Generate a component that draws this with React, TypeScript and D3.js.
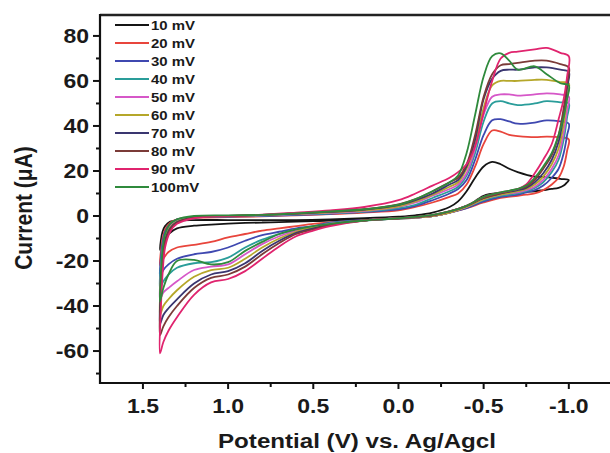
import React from "react";
import * as d3 from "d3";

// ---------- data ----------
const seriesNames = ["10 mV", "20 mV", "30 mV", "40 mV", "50 mV", "60 mV", "70 mV", "80 mV", "90 mV", "100mV"];
const seriesColors = ["#151515", "#e8453c", "#3f48b0", "#2a9d9a", "#d657c8", "#b5a72a", "#3a3670", "#7b3b38", "#e0246e", "#2f8a3c"];

// forward scan (drawn left → right, potential decreasing)
const upperV = [1.40, 1.395, 1.385, 1.37, 1.34, 1.30, 1.2, 1.0, 0.8, 0.6, 0.4, 0.2, 0.0, -0.1, -0.2, -0.3, -0.35, -0.4, -0.45, -0.5, -0.55, -0.6, -0.65, -0.7, -0.8, -0.87, -0.95, -1.0];
// reverse scan (drawn right → left)
const lowerV = [-0.99, -0.97, -0.94, -0.9, -0.85, -0.8, -0.75, -0.7, -0.6, -0.5, -0.4, -0.3, -0.2, 0.0, 0.2, 0.4, 0.5, 0.6, 0.7, 0.8, 0.9, 1.0, 1.1, 1.2, 1.3, 1.35, 1.38];

const upper10 = [-15, -11, -7, -4.5, -2.5, -2, -1.8, -1.8, -1.8, -1.8, -1.5, -1.0, -0.3, 0.3, 1.5, 4, 6.5, 11, 17, 22, 24, 23, 21, 19.5, 17.5, 17.3, 16.5, 16];
const lower10 = [15, 13.5, 12.5, 12, 11.5, 11, 10.8, 10.7, 10.3, 9, 4, 1.5, 0, -1.2, -1.8, -2.1, -2.3, -2.5, -2.7, -2.9, -3.1, -3.4, -3.8, -4.3, -5.5, -8, -11];

const upper20 = [-22, -16, -10, -6, -3, -1.5, -0.8, -0.5, -0.2, 0.3, 0.8, 1.5, 2.5, 4, 6, 8.5, 10, 14, 22, 32, 38, 37.5, 36, 35.5, 35, 35.3, 35, 34];
const lower20 = [29, 22, 17, 14, 11.5, 10, 9.5, 9, 8, 6, 3.5, 1.5, 0, -1, -1.8, -2.8, -3.5, -4.5, -5.5, -6.5, -8, -9.5, -11.5, -12.8, -14, -16, -19];

const upper30 = [-27, -19, -12, -7, -3.5, -1.5, -0.6, -0.3, 0, 0.5, 1, 1.8, 3, 4.5, 7, 10, 12, 16, 25, 36, 42.5, 43, 42, 41, 41.5, 42.5, 42, 41];
const lower30 = [36, 28, 21, 17, 13.5, 11.5, 10.5, 9.5, 8.5, 6.5, 3.5, 1.5, 0, -1, -1.8, -3, -4.5, -5.5, -7, -8.5, -11, -14, -16, -17, -19, -21.5, -24];

const upper40 = [-32, -22, -14, -8, -4, -2, -0.6, -0.2, 0.2, 0.7, 1.2, 2, 3.5, 5, 8, 11, 13, 18, 28, 42, 50, 51, 50, 49.3, 50, 51, 50.5, 50];
const lower40 = [44, 34, 25, 19.5, 15, 12.5, 11, 10, 9, 7, 4, 1.5, 0, -1, -2, -3.2, -5, -6, -8, -10.5, -14, -18.5, -20.5, -21, -23, -26, -29];

const upper50 = [-37, -26, -16, -9, -4.5, -2.2, -0.6, -0.1, 0.3, 0.8, 1.4, 2.2, 4, 6, 9, 12, 14, 19, 30, 45, 53, 54, 54, 53.5, 54, 54.5, 54, 53];
const lower50 = [47, 37, 27, 21, 16, 13, 11.5, 10.5, 9.5, 7.5, 4, 1.5, 0, -1, -2, -3.4, -5, -6.5, -9, -12.5, -17, -21.5, -22.5, -24, -29, -32, -34];

const upper60 = [-44, -30, -18, -10, -5, -2.5, -0.6, 0, 0.4, 1, 1.6, 2.5, 4.3, 6.5, 9.5, 13, 15, 21, 32, 48, 58, 60, 60, 60, 60.5, 60.5, 59.5, 59];
const lower60 = [53, 41, 30, 23, 17.5, 14, 12, 11, 9.5, 7.5, 4, 1.5, 0, -1, -2, -3.6, -5, -7, -10, -14, -19, -23, -24, -27, -33, -37, -40];

const upper70 = [-48, -33, -20, -11, -5.5, -2.7, -0.6, 0, 0.5, 1.1, 1.8, 2.8, 4.8, 7, 10, 14, 16, 22, 34, 52, 61, 64.5, 65, 65, 66, 66, 65, 64];
const lower70 = [57, 45, 33, 25, 19, 15, 12.5, 11.5, 10, 8, 4.5, 2, 0.3, -1, -2, -3.8, -5.5, -7.5, -11, -15.5, -21, -24.5, -26, -30, -37, -41, -44];

const upper80 = [-53, -36, -22, -12, -6, -3, -0.7, 0, 0.5, 1.2, 2, 3, 5.2, 7.5, 11, 15, 17, 23, 36, 53, 63, 67, 67.5, 68, 69, 69, 67.5, 66];
const lower80 = [59, 48, 36, 27, 21, 16, 13, 12, 10, 8, 4.5, 2, 0.3, -1, -2, -4, -6, -8, -12, -17, -22.5, -26, -27.5, -32, -40, -45, -49];

const upper90 = [-61, -42, -26, -14, -7, -3.5, -1, 0, 0.6, 1.5, 2.5, 4, 7, 10, 13.5, 17, 19.5, 23, 31, 46, 60, 70, 72.5, 73, 74, 74.7, 72.5, 71];
const lower90 = [62, 52, 43, 32, 25, 19, 14, 12, 10.5, 8.5, 4.5, 2, 0.5, -1, -2, -4.5, -6.5, -9, -13.5, -19, -24.5, -28, -29.5, -35, -45, -51, -56];

const upper100 = [-38, -26, -15, -8, -3.5, -1.5, 0, 0.3, 0.5, 1.2, 2, 3, 5, 7.5, 11, 15, 18, 28, 45, 62, 71, 72.3, 69, 65, 66.5, 63, 59, 58];
const lower100 = [52, 44, 36, 28, 22, 17, 13.5, 12, 10.5, 8.5, 4.5, 2, 0.5, -1, -2, -3.5, -4.5, -6, -8, -11.5, -15.5, -20.5, -21.5, -19.5, -20, -26, -32];

const upperSets = [upper10, upper20, upper30, upper40, upper50, upper60, upper70, upper80, upper90, upper100];
const lowerSets = [lower10, lower20, lower30, lower40, lower50, lower60, lower70, lower80, lower90, lower100];

const xTicks = [1.5, 1.0, 0.5, 0.0, -0.5, -1.0];
const xTickLabels = ["1.5", "1.0", "0.5", "0.0", "-0.5", "-1.0"];
const xMinorTicks = [1.25, 0.75, 0.25, -0.25, -0.75];
const yTicks = [-60, -40, -20, 0, 20, 40, 60, 80];
const yMinorTicks = [-70, -50, -30, -10, 10, 30, 50, 70];

const drawOrder = [0, 1, 2, 3, 4, 5, 6, 7, 8, 9];

// ---------- layout ----------
const W = 610, H = 453;
const left = 100, right = 608, top = 15, bottom = 383;
const FONT = "'Liberation Sans', Arial, sans-serif";
const SX = 1.15;

export default function App() {
  const x = d3.scaleLinear().domain([1.752, -1.23]).range([left, right]);
  const y = d3.scaleLinear().domain([-74.2, 89.3]).range([bottom, top]);
  const line = d3
    .line<[number, number]>()
    .x((d) => x(d[0]))
    .y((d) => y(d[1]))
    .curve(d3.curveCatmullRomClosed.alpha(0.5));

  const paths = drawOrder.map((i) => {
    const pts: [number, number][] = [];
    upperV.forEach((v, k) => pts.push([v, upperSets[i][k]]));
    lowerV.forEach((v, k) => pts.push([v, lowerSets[i][k]]));
    return { i, d: line(pts) || "" };
  });

  return (
    <svg width={W} height={H} style={{ display: "block", position: "absolute", left: 0, top: 0, background: "#fff" }}>
      <rect x={0} y={0} width={W} height={H} fill="#fff" />
      {/* curves */}
      <g fill="none" strokeWidth={1.8} strokeLinejoin="round">
        {paths.map((p) => (
          <path key={p.i} d={p.d} stroke={seriesColors[p.i]} />
        ))}
      </g>
      {/* frame */}
      <line x1={left} x2={W} y1={top} y2={top} stroke="#222" strokeWidth={2.5} />
      <line x1={left} x2={left} y1={top - 1} y2={bottom + 1} stroke="#111" strokeWidth={2.2} />
      <line x1={left - 1} x2={W} y1={bottom} y2={bottom} stroke="#111" strokeWidth={2.2} />
      {/* x ticks */}
      {xTicks.map((t, k) => (
        <g key={"xt" + k}>
          <line x1={x(t)} x2={x(t)} y1={bottom} y2={bottom + 6} stroke="#111" strokeWidth={2} />
          <text
            transform={`translate(${x(t)},413) scale(${SX},1)`}
            textAnchor="middle"
            fontFamily={FONT}
            fontWeight="bold"
            fontSize={20}
            fill="#1a1a1a"
          >
            {xTickLabels[k]}
          </text>
        </g>
      ))}
      {xMinorTicks.map((t, k) => (
        <line key={"xm" + k} x1={x(t)} x2={x(t)} y1={bottom} y2={bottom + 4} stroke="#111" strokeWidth={2} />
      ))}
      {/* y ticks */}
      {yTicks.map((t, k) => (
        <g key={"yt" + k}>
          <line x1={left - 7} x2={left} y1={y(t)} y2={y(t)} stroke="#111" strokeWidth={2} />
          <text
            transform={`translate(89,${y(t) + 7}) scale(${SX},1)`}
            textAnchor="end"
            fontFamily={FONT}
            fontWeight="bold"
            fontSize={20}
            fill="#1a1a1a"
          >
            {String(t)}
          </text>
        </g>
      ))}
      {yMinorTicks.map((t, k) => (
        <line key={"ym" + k} x1={left - 4} x2={left} y1={y(t)} y2={y(t)} stroke="#111" strokeWidth={2} />
      ))}
      {/* axis titles */}
      <text
        transform={`translate(357,448) scale(${SX},1)`}
        textAnchor="middle"
        fontFamily={FONT}
        fontWeight="bold"
        fontSize={21}
        fill="#1a1a1a"
      >
        Potential (V) vs. Ag/Agcl
      </text>
      <text
        transform={`translate(32,208) rotate(-90) scale(1,${SX})`}
        textAnchor="middle"
        fontFamily={FONT}
        fontWeight="bold"
        fontSize={21}
        fill="#1a1a1a"
      >
        Current (μA)
      </text>
      {/* legend */}
      {seriesNames.map((n, i) => (
        <g key={"lg" + i}>
          <line x1={115} x2={149} y1={25 + i * 18} y2={25 + i * 18} stroke={seriesColors[i]} strokeWidth={2} />
          <text
            transform={`translate(151,${25 + i * 18 + 4.6}) scale(${SX},1)`}
            fontFamily={FONT}
            fontWeight="bold"
            fontSize={13}
            fill="#1a1a1a"
          >
            {n}
          </text>
        </g>
      ))}
    </svg>
  );
}
